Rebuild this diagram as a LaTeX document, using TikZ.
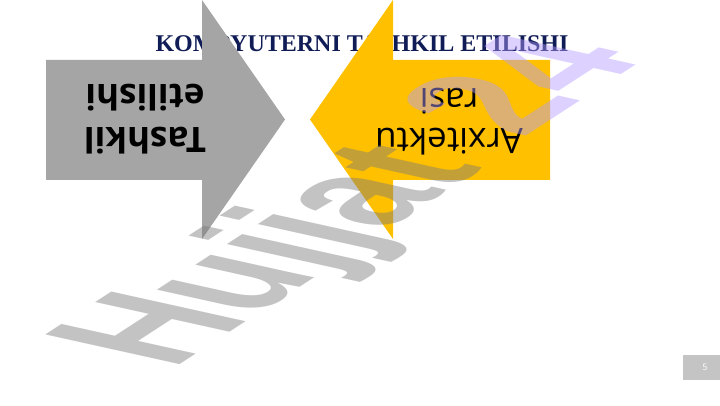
\documentclass[tikz,border=0pt]{standalone}
\usepackage{fontspec}
\setmainfont{Liberation Serif}
\newfontfamily\osans{Open Sans}
\newfontfamily\wmfont{Liberation Sans}
\definecolor{arrgray}{HTML}{A5A5A5}
\definecolor{arryel}{HTML}{FFC000}
\definecolor{titleblue}{HTML}{101C55}
\definecolor{wmgray}{HTML}{7A7A7A}
\definecolor{wmlav}{HTML}{B39BFF}
\definecolor{pgbox}{HTML}{C4C4C4}
\tikzset{
  arrowtext/.style={rotate=180, align=center, text=black, inner sep=0pt},
  watermark/.style={transform shape, anchor=base west, inner sep=0pt, text opacity=0.45,
     font=\wmfont\bfseries\fontsize{100}{100}\selectfont},
  wmskew/.style={cm={1.124,0.730,-1.952,0.432,(0,0)}}
}
\begin{document}
\begin{tikzpicture}[x=1pt,y=-1pt]
\useasboundingbox (0,0) rectangle (720,406);
% title
\node[font=\bfseries\fontsize{24}{28}\selectfont, text=titleblue, anchor=base, inner sep=0pt] (title) at (362,52) {KOMPYUTERNI TASHKIL ETILISHI};
% gray arrow (pointing right)
\fill[arrgray] (46,60) -- (202,60) -- (202,0) -- (285,119.5) -- (202,239) -- (202,180) -- (46,180) -- cycle;
% yellow arrow (pointing left)
\fill[arryel] (550,60) -- (393,60) -- (393,0) -- (310,119.5) -- (393,239) -- (393,180) -- (550,180) -- cycle;
% arrow texts
\node[arrowtext, font=\osans\bfseries\fontsize{35}{43}\selectfont] (t1) at (145,119.5) {Tashkil\\etilishi};
\node[arrowtext, font=\osans\fontsize{35}{40}\selectfont] (t2) at (449,121.5) {Arxitektu\\rasi};
% page number
\fill[pgbox] (683,355) rectangle (720,380);
\node[font=\osans\fontsize{9}{10}\selectfont, text=white] (pg) at (705,367.5) {5};
% watermark
\begin{scope}[shift={(172,370)}, wmskew]
\node[watermark, text=wmgray] (wm1) at (0,0) {Hujjat};
\end{scope}
\begin{scope}[shift={(522,139)}, wmskew]
\node[watermark, text=wmlav] (wm2) at (0,0) {24};
\end{scope}
\end{tikzpicture}
\end{document}
